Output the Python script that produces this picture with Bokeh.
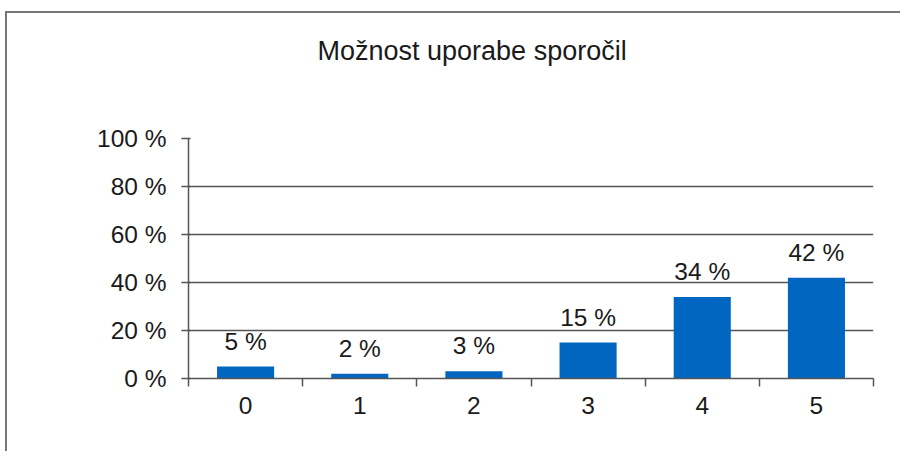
from bokeh.plotting import figure
from bokeh.models import (Range1d, FixedTicker, ColumnDataSource, LabelSet, Title)
from bokeh.core.properties import value
from bokeh.embed import file_html
from bokeh.resources import INLINE

# ---- data ----
categories = [0, 1, 2, 3, 4, 5]
cat_labels = ["0", "1", "2", "3", "4", "5"]
values = [5, 2, 3, 15, 34, 42]
value_labels = ["5 %", "2 %", "3 %", "15 %", "34 %", "42 %"]
yticks = [0, 20, 40, 60, 80, 100]
ytick_labels = ["0 %", "20 %", "40 %", "60 %", "80 %", "100 %"]
title_text = "Možnost uporabe sporočil"

FONT = "Liberation Sans"
AXC = "#555555"
TXT = "#1a1a1a"
FS = "24.5px"

p = figure(width=895, height=440, output_backend="svg", toolbar_location=None,
           x_range=Range1d(-0.5, 5.5), y_range=Range1d(0, 100),
           min_border_left=181, min_border_right=29, min_border_top=125,
           min_border_bottom=75, title=title_text)
p.outline_line_color = None
p.background_fill_color = "white"
p.border_fill_color = "white"

# spacer between title and plot frame
p.add_layout(Title(text=" ", text_font_size="10px", standoff=40), "above")

p.title.text_font = FONT
p.title.text_font_size = "27px"
p.title.text_font_style = "normal"
p.title.text_color = TXT
p.title.align = "left"
p.title.offset = 129
p.title.standoff = 40

src = ColumnDataSource(dict(x=categories, top=values, lab=value_labels))
p.vbar(x="x", top="top", width=0.5, source=src, fill_color="#0066C0",
       line_color=None)

p.add_layout(LabelSet(x="x", y="top", text="lab", source=src,
                      text_align="center", text_baseline="alphabetic",
                      y_offset=17, text_font=value(FONT), text_font_size=FS,
                      text_color=TXT))

# x axis
p.xaxis.ticker = FixedTicker(ticks=categories,
                             minor_ticks=[c - 0.5 for c in categories] + [categories[-1] + 0.5])
p.xaxis.major_label_overrides = {c: l for c, l in zip(categories, cat_labels)}
p.xaxis.major_tick_out = 0
p.xaxis.major_tick_in = 0
p.xaxis.minor_tick_out = 8
p.xaxis.minor_tick_in = 0
p.xaxis.minor_tick_line_color = AXC
p.xaxis.minor_tick_line_width = 1.5
p.xaxis.axis_line_color = AXC
p.xaxis.axis_line_width = 1.5
p.xaxis.major_label_text_font = FONT
p.xaxis.major_label_text_font_size = FS
p.xaxis.major_label_text_color = TXT
p.xaxis.major_label_standoff = 10

# y axis
p.yaxis.ticker = FixedTicker(ticks=yticks)
p.yaxis.major_label_overrides = {t: l for t, l in zip(yticks, ytick_labels)}
p.yaxis.major_tick_out = 7
p.yaxis.major_tick_in = 2
p.yaxis.minor_tick_line_color = None
p.yaxis.major_tick_line_color = AXC
p.yaxis.major_tick_line_width = 1.5
p.yaxis.axis_line_color = AXC
p.yaxis.axis_line_width = 1.5
p.yaxis.major_label_text_font = FONT
p.yaxis.major_label_text_font_size = FS
p.yaxis.major_label_text_color = TXT
p.yaxis.major_label_standoff = 15

p.xgrid.grid_line_color = None
p.ygrid.ticker = FixedTicker(ticks=yticks[1:-1])
p.ygrid.grid_line_color = AXC
p.ygrid.grid_line_width = 1.5

p.styles = {"border-top": "2px solid #777777", "border-left": "2px solid #777777"}
p.margin = (11, 0, 0, 5)

open("out.html", "w").write(file_html(p, INLINE))
